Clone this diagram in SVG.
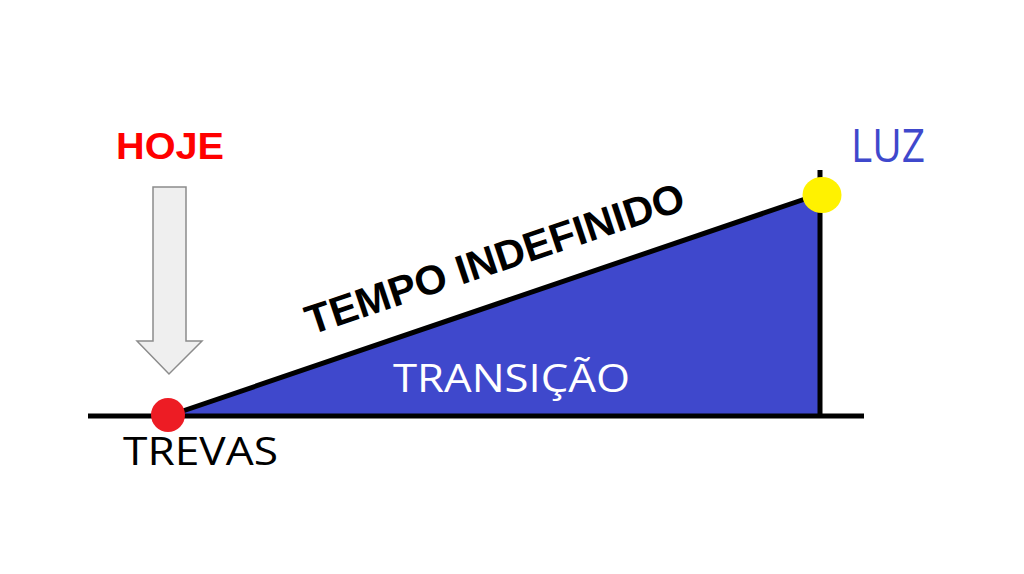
<svg xmlns="http://www.w3.org/2000/svg" width="1024" height="574" viewBox="0 0 1024 574">
<style>
.line{stroke:#000;stroke-width:5;fill:none;stroke-linecap:butt}
.calibri{font-family:"Open Sans","Noto Sans",sans-serif}
.bold{font-family:"Liberation Sans",Arial,sans-serif;font-weight:bold}
</style>
<rect width="1024" height="574" fill="#fff"/>
<g id="transicao">
<polygon points="168,416 808,198 820,198 820,416" fill="#3F48CC"/>
<text class="calibri" x="393" y="392" font-size="39" fill="#fff" textLength="237" lengthAdjust="spacingAndGlyphs">TRANSIÇÃO</text>
</g>
<g id="connectors">
<line class="line" x1="88" y1="416" x2="864" y2="416"/>
<line class="line" x1="820" y1="170" x2="820" y2="418"/>
<line class="line" x1="168" y1="416" x2="808" y2="198"/>
</g>
<g id="hoje">
<text class="bold" x="116" y="159" font-size="36" fill="#FF0000" textLength="108" lengthAdjust="spacingAndGlyphs">HOJE</text>
<polygon points="153,187 186,187 186,341 202,341 169,374 137,341 153,341" fill="#EFEFEF" stroke="#8C8C8C" stroke-width="1.5"/>
</g>
<g id="trevas">
<circle cx="168" cy="415" r="17" fill="#ED1C24"/>
<text class="calibri" x="123" y="465" font-size="38" fill="#000" textLength="155" lengthAdjust="spacingAndGlyphs">TREVAS</text>
</g>
<g id="luz">
<ellipse cx="822" cy="195" rx="19.5" ry="18" fill="#FFF200"/>
<text class="calibri" x="851" y="162" font-size="45" fill="#3F48CC" textLength="74" lengthAdjust="spacingAndGlyphs">LUZ</text>
</g>
<g id="tempo">
<text class="bold" transform="translate(311,335) rotate(-18.5)" font-size="41" fill="#000" textLength="397" lengthAdjust="spacingAndGlyphs">TEMPO INDEFINIDO</text>
</g>
</svg>
